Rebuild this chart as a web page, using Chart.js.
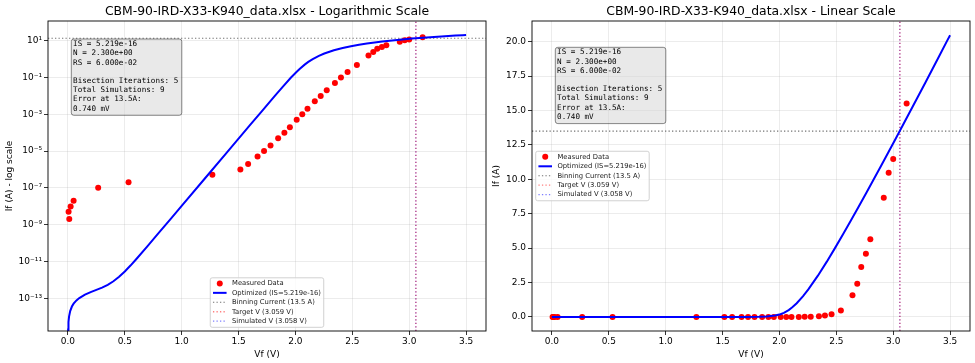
<!DOCTYPE html>
<html>
<head>
<meta charset="utf-8">
<script src="https://cdn.jsdelivr.net/npm/chart.js@4.4.0/dist/chart.umd.min.js"></script>
<style>
    html, body { margin: 0; padding: 0; background: #fff; }
    #wrap { position: relative; width: 975px; height: 363px; overflow: hidden; }
    #chartLog { position: absolute; left: 0; top: 0; }
    #chartLin { position: absolute; left: 487px; top: 0; }
</style>
</head>
<body>
<div id="wrap">
    <canvas id="chartLog" width="490" height="363"></canvas>
    <canvas id="chartLin" width="488" height="363"></canvas>
</div>
<script>
// ===== DATOS =====
const measuredV = [0.006, 0.012, 0.024, 0.050, 0.266, 0.533, 1.270, 1.516, 1.584, 1.667, 1.724, 1.781, 1.848, 1.903, 1.951,
    2.011, 2.060, 2.106, 2.170, 2.222, 2.275, 2.347, 2.400, 2.458, 2.540, 2.642, 2.684, 2.719, 2.760, 2.799, 2.917, 2.960, 3.000, 3.118];
const measuredI = [5.1e-9, 2.0e-9, 9.8e-9, 2.0e-8, 1.0e-7, 2.0e-7, 5.1e-7, 1.0e-6, 2.0e-6, 5.1e-6, 1.0e-5, 2.0e-5, 5.0e-5, 1.0e-4, 2.0e-4,
    5.1e-4, 1.0e-3, 2.0e-3, 5.1e-3, 0.010, 0.020, 0.050, 0.10, 0.20, 0.47, 1.58, 2.42, 3.63, 4.60, 5.64, 8.66, 10.48, 11.47, 15.5];

const curveV = [0, 0.002, 0.005, 0.01, 0.02, 0.035, 0.05, 0.075, 0.1, 0.15, 0.2, 0.25, 0.3, 0.35, 0.4, 0.45, 0.5, 0.55, 0.6,
    0.7, 0.8, 0.9, 1.0, 1.2, 1.4, 1.6, 1.7, 1.819, 1.886, 1.961, 2.009, 2.039, 2.081, 2.113, 2.152, 2.206, 2.254, 2.338, 2.415,
    2.488, 2.559, 2.628, 2.696, 2.763, 2.829, 2.895, 2.960, 3.025, 3.089, 3.153, 3.217, 3.281, 3.344, 3.407, 3.470, 3.500];
const curveI = [0, 2.0e-15, 5.05e-15, 1.01e-14, 2.02e-14, 3.54e-14, 5.07e-14, 7.63e-14, 1.02e-13, 1.56e-13, 2.15e-13, 2.84e-13,
    3.81e-13, 5.38e-13, 8.36e-13, 1.46e-12, 2.84e-12, 5.98e-12, 1.32e-11, 6.85e-11, 3.65e-10, 1.96e-9, 1.05e-8, 3.04e-7, 8.77e-6,
    2.54e-4, 1.36e-3, 0.01, 0.03, 0.1, 0.2, 0.3, 0.5, 0.7, 1, 1.5, 2, 3, 4, 5, 6, 7, 8, 9, 10, 11, 12, 13, 14, 15, 16, 17, 18, 19, 20, 20.47];

const binningCurrent = 13.5;
const targetV = 3.059;
const simulatedV = 3.058;

const xTicks = [0, 0.5, 1, 1.5, 2, 2.5, 3, 3.5];
const linTicks = [0, 2.5, 5, 7.5, 10, 12.5, 15, 17.5, 20];
const logTickExps = [1, -1, -3, -5, -7, -9, -11, -13];

const fitLines = ['IS = 5.219e-16', 'N = 2.300e+00', 'RS = 6.000e-02', '',
    'Bisection Iterations: 5', 'Total Simulations: 9', 'Error at 13.5A:', '0.740 mV'];

const fileName = 'CBM-90-IRD-X33-K940_data.xlsx';

// ===== CONFIG =====
const FONT = '"DejaVu Sans", sans-serif';
const MONO = '"DejaVu Sans Mono", monospace';
const GRID = 'rgba(176,176,176,0.3)';
const TICK_SIZE = 9;
Chart.defaults.font.family = FONT;
Chart.defaults.color = '#000';

const xMin = -0.175, xMax = 3.675;
const logMin = Math.pow(10, -14.78), logMax = Math.pow(10, 2.07);
const linMin = -1.02, linMax = 21.5;

const sup = { '-': '⁻', '0': '⁰', '1': '¹', '2': '²', '3': '³', '4': '⁴', '5': '⁵', '6': '⁶', '7': '⁷', '8': '⁸', '9': '⁹' };
function powLabel(v) {
    const e = Math.round(Math.log10(v));
    return '10' + String(e).split('').map(c => sup[c]).join('');
}

function pts(xs, ys, floor) {
    return xs.map((x, i) => ({ x: x, y: floor ? Math.max(ys[i], floor) : ys[i] }));
}

function crearDatasets(yMin, yMax, floor) {
    return [
        { label: 'Measured Data', data: pts(measuredV, measuredI), showLine: false, pointRadius: 3,
          pointBackgroundColor: '#ff0000', pointBorderWidth: 0, borderColor: '#ff0000', order: 1 },
        { label: 'Optimized (IS=5.219e-16)', data: pts(curveV, curveI, floor), showLine: true, borderColor: '#0000ff',
          borderWidth: 2, pointRadius: 0, tension: 0, order: 0 },
        { label: 'Binning Current (' + binningCurrent + ' A)', data: [{ x: xMin, y: binningCurrent }, { x: xMax, y: binningCurrent }],
          showLine: true, borderColor: 'rgba(100,100,100,0.9)', borderWidth: 1.1, borderDash: [1.3, 2.2], pointRadius: 0, order: 2 },
        { label: 'Target V (' + targetV.toFixed(3) + ' V)', data: [{ x: targetV, y: yMin }, { x: targetV, y: yMax }],
          showLine: true, borderColor: 'rgba(255,0,0,0.5)', borderWidth: 1.3, borderDash: [1.3, 2.2], pointRadius: 0, order: 3 },
        { label: 'Simulated V (' + simulatedV.toFixed(3) + ' V)', data: [{ x: simulatedV, y: yMin }, { x: simulatedV, y: yMax }],
          showLine: true, borderColor: 'rgba(0,0,255,0.5)', borderWidth: 1.3, borderDash: [1.3, 2.2], pointRadius: 0, order: 4 }
    ];
}

function roundRect(ctx, x, y, w, h, r) {
    ctx.beginPath();
    ctx.moveTo(x + r, y);
    ctx.lineTo(x + w - r, y);
    ctx.quadraticCurveTo(x + w, y, x + w, y + r);
    ctx.lineTo(x + w, y + h - r);
    ctx.quadraticCurveTo(x + w, y + h, x + w - r, y + h);
    ctx.lineTo(x + r, y + h);
    ctx.quadraticCurveTo(x, y + h, x, y + h - r);
    ctx.lineTo(x, y + r);
    ctx.quadraticCurveTo(x, y, x + r, y);
    ctx.closePath();
}

// leyenda estilo matplotlib dentro del area
function dibujarLeyenda(chart, loc) {
    const ctx = chart.ctx, a = chart.chartArea;
    const fs = 6.8;
    const ds = chart.data.datasets;
    ctx.save();
    ctx.font = fs + 'px ' + FONT;
    const tw = Math.max(...ds.map(d => ctx.measureText(d.label).width));
    const w = fs * 0.4 + fs * 2 + fs * 0.8 + tw + fs * 0.4;
    const h = 49.5, rowH = 9.45;
    let x, y;
    if (loc === 'lower center') {
        x = (a.left + a.right) / 2 - w / 2;
        y = a.bottom - 3.7 - h;
    } else {
        x = a.left + 3.7;
        y = (a.top + a.bottom) / 2 - h / 2;
    }
    roundRect(ctx, x, y, w, h, 2);
    ctx.fillStyle = 'rgba(255,255,255,0.8)';
    ctx.fill();
    ctx.strokeStyle = 'rgba(204,204,204,0.9)';
    ctx.lineWidth = 1;
    ctx.stroke();

    const hx = x + fs * 0.4, hl = fs * 2;
    ds.forEach((d, i) => {
        const cy = y + 5.6 + i * rowH;
        if (d.showLine === false) {
            ctx.fillStyle = d.pointBackgroundColor;
            ctx.beginPath();
            ctx.arc(hx + hl / 2, cy, 3, 0, Math.PI * 2);
            ctx.fill();
        } else {
            ctx.strokeStyle = d.borderColor;
            ctx.lineWidth = d.borderWidth;
            ctx.setLineDash(d.borderDash || []);
            ctx.beginPath();
            ctx.moveTo(hx, cy);
            ctx.lineTo(hx + hl, cy);
            ctx.stroke();
            ctx.setLineDash([]);
        }
        ctx.fillStyle = '#222';
        ctx.textBaseline = 'middle';
        ctx.textAlign = 'left';
        ctx.fillText(d.label, hx + hl + fs * 0.8, cy);
    });
    ctx.restore();
}

function dibujarCaja(chart, top) {
    const ctx = chart.ctx, a = chart.chartArea;
    const x = a.left + 23.3, w = 110.5, h = 76.3;
    ctx.save();
    roundRect(ctx, x, top, w, h, 2.5);
    ctx.fillStyle = 'rgba(211,211,211,0.5)';
    ctx.fill();
    ctx.strokeStyle = 'rgba(0,0,0,0.45)';
    ctx.lineWidth = 1;
    ctx.stroke();
    ctx.font = '7.6px ' + MONO;
    ctx.fillStyle = '#000';
    ctx.textBaseline = 'middle';
    ctx.textAlign = 'left';
    fitLines.forEach((t, i) => ctx.fillText(t, x + 1.8, top + 5.2 + i * 9.2));
    ctx.restore();
}

function crearPlugin(cfg) {
    return {
        id: 'extras',
        afterDraw(chart) {
            const ctx = chart.ctx, a = chart.chartArea;
            ctx.save();
            ctx.strokeStyle = '#000';
            ctx.lineWidth = 0.9;
            ctx.strokeRect(a.left, a.top, a.right - a.left, a.bottom - a.top);
            ctx.font = '12.4px ' + FONT;
            ctx.fillStyle = '#000';
            ctx.textAlign = 'center';
            ctx.textBaseline = 'middle';
            ctx.fillText(cfg.title, (a.left + a.right) / 2, 12);
            ctx.restore();
            dibujarCaja(chart, cfg.boxTop);
            dibujarLeyenda(chart, cfg.legendLoc);
        }
    };
}

function escalaX() {
    return {
        type: 'linear', min: xMin, max: xMax, bounds: 'data',
        afterFit: s => { s.height = 32; },
        afterBuildTicks: s => { s.ticks = xTicks.map(v => ({ value: v })); },
        ticks: { autoSkip: false, maxRotation: 0, padding: 1, font: { size: TICK_SIZE }, callback: v => Number(v).toFixed(1) },
        grid: { color: GRID, lineWidth: 0.8, tickColor: '#000', tickLength: 4, tickWidth: 0.8 },
        border: { display: false },
        title: { display: true, text: 'Vf (V)', font: { size: TICK_SIZE }, padding: { top: 0, bottom: 3 } }
    };
}

// ===== GRAFICO LOG =====
function crearGraficoLog() {
    const ctx = document.getElementById('chartLog').getContext('2d');
    new Chart(ctx, {
        type: 'scatter',
        data: { datasets: crearDatasets(logMin, logMax, 1e-18) },
        options: {
            responsive: false, animation: false, events: [],
            layout: { padding: { top: 21, right: 4, bottom: 0, left: 0 } },
            plugins: { legend: { display: false }, tooltip: { enabled: false } },
            scales: {
                x: escalaX(),
                y: {
                    type: 'logarithmic', min: logMin, max: logMax, bounds: 'data',
                    afterFit: s => { s.width = 48; },
                    afterBuildTicks: s => { s.ticks = logTickExps.map(e => ({ value: Math.pow(10, e) })); },
                    ticks: { autoSkip: false, padding: 2, font: { size: TICK_SIZE }, callback: v => powLabel(v) },
                    grid: { color: GRID, lineWidth: 0.8, tickColor: '#000', tickLength: 4, tickWidth: 0.8 },
                    border: { display: false },
                    title: { display: true, text: 'If (A) - log scale', font: { size: TICK_SIZE }, padding: { top: 4, bottom: 0 } }
                }
            }
        },
        plugins: [crearPlugin({ title: fileName + ' - Logarithmic Scale', boxTop: 39, legendLoc: 'lower center' })]
    });
}

// ===== GRAFICO LINEAL =====
function crearGraficoLineal() {
    const ctx = document.getElementById('chartLin').getContext('2d');
    new Chart(ctx, {
        type: 'scatter',
        data: { datasets: crearDatasets(linMin, linMax) },
        options: {
            responsive: false, animation: false, events: [],
            layout: { padding: { top: 21, right: 5, bottom: 0, left: 0 } },
            plugins: { legend: { display: false }, tooltip: { enabled: false } },
            scales: {
                x: escalaX(),
                y: {
                    type: 'linear', min: linMin, max: linMax, bounds: 'data',
                    afterFit: s => { s.width = 45; },
                    afterBuildTicks: s => { s.ticks = linTicks.map(v => ({ value: v })); },
                    ticks: { autoSkip: false, padding: 2, font: { size: TICK_SIZE }, callback: v => Number(v).toFixed(1) },
                    grid: { color: GRID, lineWidth: 0.8, tickColor: '#000', tickLength: 4, tickWidth: 0.8 },
                    border: { display: false },
                    title: { display: true, text: 'If (A)', font: { size: TICK_SIZE }, padding: { top: 4, bottom: 0 } }
                }
            }
        },
        plugins: [crearPlugin({ title: fileName + ' - Linear Scale', boxTop: 47.3, legendLoc: 'center left' })]
    });
}

crearGraficoLog();
crearGraficoLineal();
</script>
</body>
</html>
